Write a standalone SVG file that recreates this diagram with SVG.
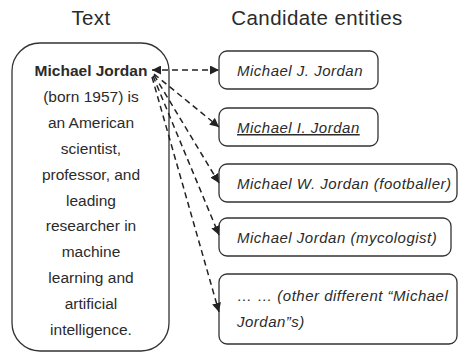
<svg xmlns="http://www.w3.org/2000/svg" width="459" height="352" viewBox="0 0 459 352">
<defs>
<style>
.box{fill:#fff;stroke:#333;stroke-width:1.3}
.t{font-family:"Liberation Sans",Arial,sans-serif;fill:#2b2b2b}
.title{font-size:20.5px;letter-spacing:0.4px;text-anchor:middle}
.body{font-size:15.5px;text-anchor:middle}
.ent{font-size:15px;letter-spacing:0.5px;font-style:italic}
.conn{fill:none;stroke:#222;stroke-width:1.5;stroke-dasharray:6 4}
</style>
<marker id="ah" viewBox="0 0 10 10" refX="10" refY="5" markerWidth="9" markerHeight="9" markerUnits="userSpaceOnUse" orient="auto-start-reverse">
<path d="M0,0 L10,5 L0,10 z" fill="#222"/>
</marker>
</defs>
<text class="t title" x="91" y="25">Text</text>
<text class="t title" x="317" y="25">Candidate entities</text>
<g id="text-node">
<rect class="box" x="12" y="43" width="157" height="308" rx="28"/>
<text class="t body" x="91" y="76" font-weight="bold" font-size="15">Michael Jordan</text>
<text class="t body" x="91" y="102">(born 1957) is</text>
<text class="t body" x="91" y="128">an American</text>
<text class="t body" x="91" y="154">scientist,</text>
<text class="t body" x="91" y="180">professor, and</text>
<text class="t body" x="91" y="206">leading</text>
<text class="t body" x="91" y="231">researcher in</text>
<text class="t body" x="91" y="257">machine</text>
<text class="t body" x="91" y="283">learning and</text>
<text class="t body" x="91" y="309">artificial</text>
<text class="t body" x="91" y="335">intelligence.</text>
</g>
<g id="entity1">
<rect class="box" x="219" y="51" width="159" height="38" rx="8"/>
<text class="t ent" x="237" y="76">Michael J. Jordan</text>
</g>
<g id="entity2">
<rect class="box" x="219" y="108" width="159" height="38" rx="8"/>
<text class="t ent" x="237" y="133" text-decoration="underline">Michael I. Jordan</text>
</g>
<g id="entity3">
<rect class="box" x="219" y="164" width="238" height="38" rx="8"/>
<text class="t ent" x="237" y="189">Michael W. Jordan (footballer)</text>
</g>
<g id="entity4">
<rect class="box" x="219" y="218" width="232" height="38" rx="8"/>
<text class="t ent" x="237" y="243">Michael Jordan (mycologist)</text>
</g>
<g id="entity5">
<rect class="box" x="219" y="274" width="238" height="70" rx="8"/>
<text class="t ent" x="237" y="301">… … (other different “Michael</text>
<text class="t ent" x="237" y="327">Jordan”s)</text>
</g>
<g id="connectors">
<path class="conn" d="M152,70 L219,70" marker-start="url(#ah)" marker-end="url(#ah)"/>
<path class="conn" d="M154,74 L219,127" marker-end="url(#ah)"/>
<path class="conn" d="M154,75 L219,183" marker-end="url(#ah)"/>
<path class="conn" d="M153,76 L219,235" marker-end="url(#ah)"/>
<path class="conn" d="M152,77 L219,312" marker-end="url(#ah)"/>
</g>
</svg>
